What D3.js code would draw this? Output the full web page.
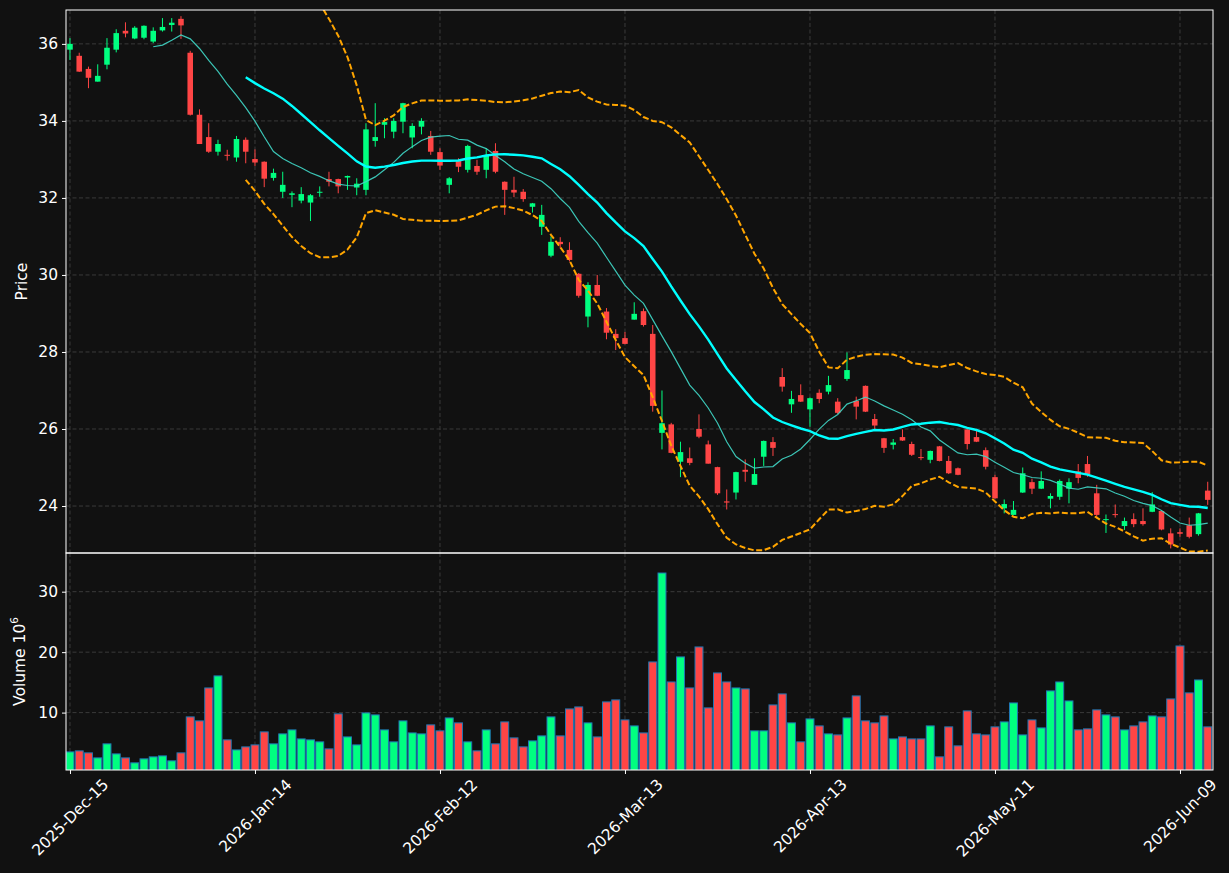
<!DOCTYPE html>
<html>
<head>
<meta charset="utf-8">
<script src="https://cdn.jsdelivr.net/npm/d3@7"></script>
<style>
  html, body { margin: 0; padding: 0; background: #111111; }
  svg { display: block; font-family: "DejaVu Sans", sans-serif; }
</style>
</head>
<body>
<div id="chart"></div>
<script>
// OHLC, one value per trading day (124 bars)
const opens = [
  35.85, 35.69, 35.35, 35.02, 35.46, 35.85, 36.34, 36.14, 36.16, 36.06,
  36.35, 36.49, 36.65, 35.77, 34.16, 33.58, 33.20, 33.12, 33.05, 33.51,
  33.01, 32.94, 32.52, 32.16, 32.08, 31.93, 31.88, 32.14, 32.49, 32.49,
  32.53, 32.27, 32.21, 33.48, 33.90, 33.72, 33.98, 33.57, 33.85, 33.61,
  33.19, 32.34, 32.96, 32.73, 32.83, 32.73, 33.22, 32.42, 32.21, 32.16,
  31.77, 31.25, 30.50, 30.86, 30.65, 30.03, 28.92, 29.74, 29.05, 28.47,
  28.36, 28.84, 29.06, 28.47, 25.90, 26.12, 25.15, 25.24, 26.00, 25.60,
  25.01, 24.12, 24.35, 24.94, 24.55, 25.28, 25.66, 27.35, 26.64, 26.88,
  26.51, 26.94, 26.97, 26.71, 27.30, 26.73, 27.12, 26.26, 25.76, 25.59,
  25.79, 25.61, 25.27, 25.20, 25.55, 25.17, 24.98, 25.99, 25.79, 25.45,
  24.75, 23.94, 23.77, 24.35, 24.62, 24.45, 24.19, 24.24, 24.45, 24.90,
  25.09, 24.33, 23.64, 23.79, 23.48, 23.66, 23.61, 23.85, 23.87, 23.29,
  23.32, 23.50, 23.27, 24.40
];
const highs = [
  36.15, 35.77, 35.41, 35.47, 36.15, 36.38, 36.56, 36.46, 36.48, 36.43,
  36.67, 36.67, 36.72, 35.82, 34.30, 33.94, 33.51, 33.25, 33.61, 33.57,
  33.26, 32.95, 32.76, 32.68, 32.17, 32.28, 32.10, 32.30, 32.68, 32.50,
  32.58, 32.51, 33.94, 34.46, 34.07, 34.07, 34.47, 33.94, 34.07, 33.74,
  33.29, 32.54, 33.03, 33.38, 32.99, 33.29, 33.42, 32.43, 32.55, 32.23,
  31.87, 31.82, 31.00, 30.98, 30.85, 30.05, 29.81, 30.00, 29.14, 28.59,
  28.52, 29.29, 29.13, 28.70, 27.00, 26.16, 25.67, 25.52, 26.38, 25.70,
  25.02, 24.43, 24.89, 25.21, 25.24, 25.70, 25.79, 27.58, 26.99, 27.16,
  26.82, 27.03, 27.38, 26.80, 27.99, 26.84, 27.13, 26.39, 25.77, 25.74,
  25.99, 25.67, 25.48, 25.44, 25.56, 25.30, 25.00, 26.00, 25.97, 25.52,
  24.81, 24.17, 24.13, 25.00, 24.71, 24.90, 24.33, 24.69, 24.72, 25.09,
  25.30, 24.55, 23.78, 24.04, 23.70, 23.81, 23.94, 24.36, 23.88, 23.42,
  23.42, 23.70, 23.82, 24.63
];
const lows = [
  35.58, 35.27, 34.85, 35.02, 35.34, 35.78, 36.17, 36.12, 36.12, 36.02,
  36.32, 36.32, 36.13, 34.14, 33.40, 33.17, 33.10, 32.97, 32.94, 32.90,
  32.83, 32.28, 32.45, 32.00, 31.76, 31.86, 31.40, 32.03, 32.30, 32.12,
  32.21, 32.07, 32.07, 33.33, 33.55, 33.55, 33.68, 33.29, 33.65, 33.12,
  32.73, 32.12, 32.67, 32.66, 32.60, 32.51, 32.64, 31.56, 32.02, 31.90,
  31.62, 31.04, 30.46, 30.69, 30.35, 29.41, 28.64, 29.45, 28.33, 28.05,
  28.20, 28.84, 28.66, 26.45, 25.47, 25.37, 24.75, 25.06, 25.76, 25.10,
  24.29, 23.91, 24.17, 24.63, 24.55, 25.04, 25.30, 26.97, 26.42, 26.70,
  26.06, 26.67, 26.90, 26.39, 27.25, 26.25, 26.44, 26.00, 25.38, 25.47,
  25.69, 25.30, 25.19, 25.11, 25.16, 24.83, 24.80, 25.47, 25.66, 24.95,
  24.19, 23.81, 23.76, 24.34, 24.31, 24.44, 23.94, 24.16, 24.07, 24.59,
  24.76, 23.68, 23.30, 23.70, 23.38, 23.45, 23.49, 23.84, 23.37, 22.90,
  23.20, 23.16, 23.23, 24.03
];
const closes = [
  36.00, 35.28, 35.12, 35.17, 35.90, 36.28, 36.27, 36.42, 36.47, 36.34,
  36.44, 36.55, 36.48, 34.16, 33.40, 33.20, 33.40, 33.10, 33.53, 33.20,
  32.92, 32.50, 32.65, 32.34, 32.12, 32.10, 32.07, 32.16, 32.42, 32.30,
  32.57, 32.37, 33.78, 33.58, 33.97, 34.00, 34.46, 33.87, 34.00, 33.20,
  32.84, 32.51, 32.81, 33.35, 32.68, 33.09, 32.68, 32.21, 32.14, 31.97,
  31.86, 31.56, 30.86, 30.80, 30.39, 29.46, 29.74, 29.46, 28.50, 28.36,
  28.21, 28.99, 28.70, 26.60, 26.15, 25.38, 25.40, 25.12, 25.80, 25.10,
  24.33, 24.09, 24.88, 24.89, 24.83, 25.69, 25.51, 27.10, 26.78, 26.71,
  26.80, 26.78, 27.14, 26.42, 27.53, 26.58, 26.45, 26.09, 25.51, 25.65,
  25.70, 25.33, 25.25, 25.43, 25.17, 24.85, 24.81, 25.61, 25.67, 25.02,
  24.20, 24.05, 23.90, 24.85, 24.45, 24.65, 24.26, 24.65, 24.62, 24.73,
  24.83, 23.77, 23.66, 23.77, 23.61, 23.53, 23.53, 24.04, 23.39, 23.00,
  23.28, 23.20, 23.81, 24.16
];
// volume in millions
const volumes = [
  3.50, 3.67, 3.34, 2.51, 4.83, 3.17, 2.51, 1.69, 2.35, 2.68,
  2.84, 2.02, 3.34, 9.29, 8.63, 14.08, 16.07, 5.49, 3.83, 4.33,
  4.66, 6.81, 4.83, 6.48, 7.14, 5.65, 5.49, 5.16, 4.00, 9.79,
  5.98, 4.66, 9.95, 9.62, 7.14, 5.16, 8.63, 6.64, 6.48, 7.97,
  6.98, 9.12, 8.30, 5.16, 3.67, 7.14, 4.83, 8.46, 5.82, 4.33,
  5.32, 6.15, 9.29, 6.15, 10.61, 10.94, 8.30, 5.98, 11.77, 12.10,
  8.79, 7.80, 6.64, 18.38, 33.09, 15.07, 19.21, 14.08, 20.86, 10.78,
  16.56, 15.07, 14.08, 13.92, 6.98, 6.98, 11.27, 13.09, 8.30, 5.16,
  8.96, 7.80, 6.48, 6.31, 9.12, 12.76, 8.63, 8.30, 9.45, 5.65,
  5.98, 5.65, 5.65, 7.80, 2.68, 7.64, 4.50, 10.28, 6.48, 6.31,
  7.64, 8.46, 11.60, 6.31, 8.79, 7.47, 13.59, 15.07, 11.93, 7.14,
  7.31, 10.45, 9.62, 9.29, 7.14, 7.80, 8.46, 9.45, 9.29, 12.26,
  21.02, 13.26, 15.40, 7.64
];
const tickIndex = [0, 20, 40, 60, 80, 100, 120];
const tickLabels = ["2025-Dec-15", "2026-Jan-14", "2026-Feb-12", "2026-Mar-13",
                    "2026-Apr-13", "2026-May-11", "2026-Jun-09"];
const priceTicks = [24, 26, 28, 30, 32, 34, 36];
const volumeTicks = [10, 20, 30];

const W = 1229, H = 873;
const oPrice = { left: 66, right: 1213, top: 10, bottom: 553 };
const oVol = { left: 66, right: 1213, top: 553, bottom: 770 };
const cUp = "#00ff80", cDown = "#ff4545";
const cText = "#ffffff", cGrid = "#3a3a3a";
const fontSize = 15.5;

const aBars = closes.map((c, i) => ({ i, o: opens[i], h: highs[i], l: lows[i], c, v: volumes[i] }));

// rolling mean / population std of closes
function rolling(iWin) {
  return closes.map((c, i) => {
    if (i < iWin - 1) return null;
    const a = closes.slice(i - iWin + 1, i + 1);
    const m = d3.mean(a);
    const sd = Math.sqrt(d3.mean(a, v => (v - m) * (v - m)));
    return { i, m, sd };
  }).filter(d => d);
}
const aMa10 = rolling(10);
const aMa20 = rolling(20);

const x = d3.scaleLinear().domain([-0.43, closes.length - 0.43]).range([oPrice.left, oPrice.right]);
const step = x(1) - x(0);
const yP = d3.scaleLinear().domain([22.78, 36.88]).range([oPrice.bottom, oPrice.top]);
const yV = d3.scaleLinear().domain([0.3 * d3.min(volumes), 1.1 * d3.max(volumes)]).range([oVol.bottom, oVol.top]);

const svg = d3.select("#chart").append("svg").attr("width", W).attr("height", H);
svg.append("rect").attr("width", W).attr("height", H).attr("fill", "#111111");

const defs = svg.append("defs");
defs.append("clipPath").attr("id", "clipP").append("rect")
  .attr("x", oPrice.left).attr("y", oPrice.top)
  .attr("width", oPrice.right - oPrice.left).attr("height", oPrice.bottom - oPrice.top);
defs.append("clipPath").attr("id", "clipV").append("rect")
  .attr("x", oVol.left).attr("y", oVol.top)
  .attr("width", oVol.right - oVol.left).attr("height", oVol.bottom - oVol.top);

// grid
const gGrid = svg.append("g").attr("stroke", cGrid).attr("stroke-width", 1).attr("stroke-dasharray", "4,2.5");
[oPrice, oVol].forEach(o => {
  gGrid.selectAll(null).data(tickIndex).enter().append("line")
    .attr("x1", d => x(d)).attr("x2", d => x(d)).attr("y1", o.top).attr("y2", o.bottom);
});
gGrid.selectAll(null).data(priceTicks).enter().append("line")
  .attr("x1", oPrice.left).attr("x2", oPrice.right).attr("y1", d => yP(d)).attr("y2", d => yP(d));
gGrid.selectAll(null).data(volumeTicks).enter().append("line")
  .attr("x1", oVol.left).attr("x2", oVol.right).attr("y1", d => yV(d)).attr("y2", d => yV(d));

// volume bars
const gVol = svg.append("g").attr("clip-path", "url(#clipV)");
const bw = step * 0.86;
gVol.selectAll("rect").data(aBars).enter().append("rect")
  .attr("x", d => x(d.i) - bw / 2)
  .attr("width", bw)
  .attr("y", d => yV(d.v))
  .attr("height", d => oVol.bottom + 2 - yV(d.v))
  .attr("fill", d => d.c >= d.o ? cUp : cDown)
  .attr("stroke", "#1f77b4").attr("stroke-width", 1);

// candles
const gCandle = svg.append("g").attr("clip-path", "url(#clipP)");
const cw = step * 0.6;
gCandle.selectAll("line").data(aBars).enter().append("line")
  .attr("x1", d => x(d.i)).attr("x2", d => x(d.i))
  .attr("y1", d => yP(d.h)).attr("y2", d => yP(d.l))
  .attr("stroke", d => d.c >= d.o ? cUp : cDown).attr("stroke-width", 1);
gCandle.selectAll("rect").data(aBars).enter().append("rect")
  .attr("x", d => x(d.i) - cw / 2)
  .attr("width", cw)
  .attr("y", d => yP(Math.max(d.o, d.c)))
  .attr("height", d => Math.max(1, Math.abs(yP(d.o) - yP(d.c))))
  .attr("fill", d => d.c >= d.o ? cUp : cDown);

// moving averages and bands
const gLine = svg.append("g").attr("clip-path", "url(#clipP)").attr("fill", "none");
const line = fY => d3.line().x(d => x(d.i)).y(fY);
gLine.append("path").datum(aMa10).attr("d", line(d => yP(d.m)))
  .attr("stroke", "#40d8c8").attr("stroke-width", 1.2).attr("opacity", 0.9);
gLine.append("path").datum(aMa20).attr("d", line(d => yP(d.m)))
  .attr("stroke", "#00ffff").attr("stroke-width", 2.4);
[1, -1].forEach(k => {
  gLine.append("path").datum(aMa20).attr("d", line(d => yP(d.m + k * 2 * d.sd)))
    .attr("stroke", "#ffa500").attr("stroke-width", 2).attr("stroke-dasharray", "6,2.6");
});

// frames
[oPrice, oVol].forEach(o => {
  svg.append("rect").attr("x", o.left).attr("y", o.top)
    .attr("width", o.right - o.left).attr("height", o.bottom - o.top)
    .attr("fill", "none").attr("stroke", cText).attr("stroke-width", 1);
});

// axes
function styleAxis(g) {
  g.select(".domain").remove();
  g.selectAll(".tick line").attr("stroke", cText);
  g.selectAll(".tick text").attr("fill", cText).attr("font-size", fontSize)
    .attr("font-family", "DejaVu Sans, sans-serif");
}
svg.append("g").attr("transform", `translate(${oPrice.left},0)`)
  .call(d3.axisLeft(yP).tickValues(priceTicks).tickSize(4).tickPadding(4)).call(styleAxis);
svg.append("g").attr("transform", `translate(${oVol.left},0)`)
  .call(d3.axisLeft(yV).tickValues(volumeTicks).tickSize(4).tickPadding(4)).call(styleAxis);

const gX = svg.append("g").attr("transform", `translate(0,${oVol.bottom})`)
  .call(d3.axisBottom(x).tickValues(tickIndex).tickFormat((d, i) => tickLabels[i]).tickSize(4))
  .call(styleAxis);
gX.selectAll(".tick text").each(function () {
  const t = d3.select(this);
  const w = this.getComputedTextLength();
  const hb = (w + fontSize * 0.75) * Math.SQRT1_2; // rotated box height
  t.attr("y", null).attr("dy", null)
    .attr("text-anchor", "middle").attr("dominant-baseline", "central")
    .attr("transform", `translate(0,${8 + hb / 2}) rotate(-45)`);
});

// axis labels
svg.append("text").attr("transform", `translate(27,${(oPrice.top + oPrice.bottom) / 2}) rotate(-90)`)
  .attr("text-anchor", "middle").attr("fill", cText).attr("font-size", fontSize).text("Price");
const tVol = svg.append("text").attr("transform", `translate(25,${(oVol.top + oVol.bottom) / 2}) rotate(-90)`)
  .attr("text-anchor", "middle").attr("fill", cText).attr("font-size", fontSize);
tVol.append("tspan").text("Volume  10");
tVol.append("tspan").attr("dy", -7).attr("font-size", 10.5).text("6");
</script>
</body>
</html>
